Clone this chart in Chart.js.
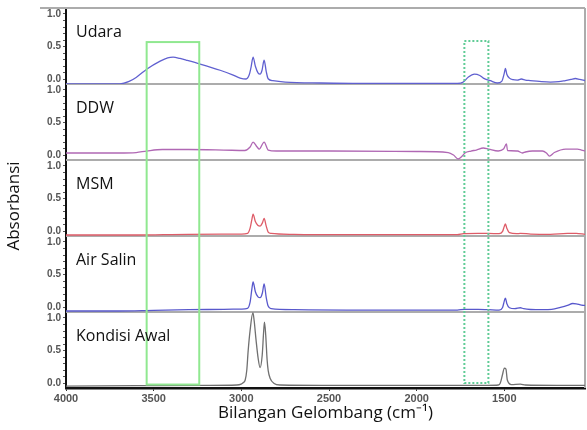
<!DOCTYPE html>
<html><head><meta charset="utf-8">
<script src="https://cdn.jsdelivr.net/npm/chart.js@4.4.1/dist/chart.umd.min.js"></script>
<style>html,body{margin:0;padding:0;background:#fff}</style>
</head><body>
<canvas id="c" width="587" height="430"></canvas>
<script>
// ---------- DATA ----------
const panelNames = ['Udara', 'DDW', 'MSM', 'Air Salin', 'Kondisi Awal'];
const xTickValues = [4000, 3500, 3000, 2500, 2000, 1500];
const yTickValues = [0, 0.1, 0.2, 0.3, 0.4, 0.5, 0.6, 0.7, 0.8, 0.9, 1.0];
const yLabelValues = [0, 0.5, 1.0];
const xTitle = 'Bilangan Gelombang (cm\u207B\u00B9)';
const yTitle = 'Absorbansi';

const udaraWn  = [4000, 3800, 3692, 3640, 3600, 3538, 3463, 3420, 3389, 3350, 3315, 3235, 3121, 3050, 3007, 2973, 2955, 2945, 2933, 2920, 2905, 2893, 2882, 2870, 2858, 2847, 2820, 2750, 2550, 2300, 2094, 1900, 1768, 1734, 1705, 1671, 1640, 1620, 1580, 1540, 1515, 1500, 1494, 1486, 1471, 1450, 1426, 1403, 1380, 1352, 1300, 1237, 1190, 1152, 1120, 1095, 1070, 1040];
const udaraAbs = [-0.07, -0.07, -0.068, -0.03, 0.03, 0.16, 0.28, 0.33, 0.34, 0.32, 0.295, 0.235, 0.14, 0.07, 0.02, 0.006, 0.07, 0.18, 0.34, 0.2, 0.1, 0.08, 0.14, 0.295, 0.12, 0.01, -0.02, -0.04, -0.055, -0.06, -0.062, -0.062, -0.062, -0.04, 0.036, 0.08, 0.06, 0.02, -0.02, -0.055, -0.03, 0.1, 0.17, 0.08, 0.02, -0.005, -0.01, 0.006, -0.01, -0.017, -0.03, -0.04, -0.035, -0.017, 0.0, 0.014, 0.0, -0.017];

const ddwWn  = [4000, 3700, 3600, 3540, 3450, 3300, 3100, 2980, 2950, 2933, 2910, 2898, 2870, 2847, 2800, 2500, 2000, 1820, 1790, 1763, 1740, 1725, 1690, 1660, 1620, 1590, 1535, 1505, 1488, 1482, 1425, 1397, 1380, 1340, 1283, 1260, 1243, 1215, 1150, 1083, 1060, 1040];
const ddwAbs = [0.037, 0.037, 0.044, 0.067, 0.09, 0.09, 0.082, 0.075, 0.128, 0.204, 0.128, 0.097, 0.204, 0.082, 0.067, 0.067, 0.06, 0.044, 0.006, -0.055, -0.01, 0.037, 0.067, 0.082, 0.113, 0.097, 0.067, 0.097, 0.174, 0.075, 0.067, 0.037, 0.052, 0.067, 0.067, 0.037, -0.01, 0.044, 0.097, 0.097, 0.082, 0.067];

const msmWn  = [4000, 3600, 3300, 3000, 2965, 2950, 2940, 2933, 2920, 2905, 2893, 2880, 2870, 2858, 2847, 2830, 2700, 2400, 2000, 1768, 1734, 1650, 1591, 1530, 1510, 1500, 1494, 1486, 1471, 1430, 1409, 1350, 1237, 1140, 1090, 1040];
const msmAbs = [-0.055, -0.055, -0.045, -0.04, -0.03, 0.05, 0.18, 0.265, 0.15, 0.09, 0.08, 0.13, 0.2, 0.08, -0.01, -0.03, -0.045, -0.05, -0.05, -0.05, -0.035, -0.03, -0.03, -0.035, 0.0, 0.08, 0.113, 0.05, -0.02, -0.035, -0.03, -0.04, -0.045, -0.03, -0.03, -0.045];

const airWn  = [4000, 3700, 3500, 3300, 3100, 3000, 2965, 2950, 2940, 2933, 2920, 2905, 2893, 2880, 2870, 2858, 2847, 2830, 2700, 2400, 2000, 1768, 1728, 1650, 1590, 1530, 1510, 1500, 1494, 1486, 1471, 1440, 1409, 1390, 1350, 1280, 1230, 1180, 1140, 1110, 1090, 1060, 1040];
const airAbs = [-0.055, -0.055, -0.045, -0.035, -0.03, -0.025, -0.015, 0.08, 0.28, 0.39, 0.24, 0.16, 0.148, 0.22, 0.36, 0.15, 0.02, -0.02, -0.035, -0.04, -0.04, -0.04, -0.03, -0.03, -0.035, -0.04, 0.0, 0.1, 0.143, 0.06, -0.005, -0.02, -0.005, -0.02, -0.032, -0.035, -0.03, 0.0, 0.03, 0.06, 0.055, 0.035, 0.03];

const awalWn  = [4000, 3600, 3200, 3026, 3001, 2990, 2978, 2969, 2961, 2950, 2934, 2927, 2916, 2904, 2893, 2881, 2873, 2868, 2861, 2853, 2847, 2836, 2813, 2779, 2500, 2000, 1600, 1534, 1523, 1511, 1500, 1491, 1483, 1460, 1409, 1380, 1200, 1040];
const awalAbs = [-0.04, -0.035, -0.03, -0.024, -0.01, 0.01, 0.052, 0.2, 0.5, 0.81, 1.08, 0.96, 0.66, 0.38, 0.24, 0.43, 0.78, 0.935, 0.74, 0.36, 0.2, 0.08, 0.0, -0.024, -0.03, -0.03, -0.03, -0.024, 0.006, 0.128, 0.234, 0.22, 0.052, -0.017, -0.01, -0.024, -0.03, -0.03];

// highlight regions (wavenumber range, absorbance at top panel top, absorbance at bottom panel bottom)
const boxOHWn = [3540, 3240];
const boxOHAbs = [0.57, -0.017];
const boxCOWn = [1728, 1591];
const boxCOAbs = [0.585, 0.006];

// ---------- STYLE ----------
const seriesWn = [udaraWn, ddwWn, msmWn, airWn, awalWn];
const seriesAbs = [udaraAbs, ddwAbs, msmAbs, airAbs, awalAbs];
const seriesColors = ['rgb(96,96,208)', 'rgb(176,104,180)', 'rgb(222,92,104)', 'rgb(88,88,204)', 'rgb(112,112,112)'];
const axisIds = ['yU', 'yD', 'yM', 'yA', 'yK'];

const datasets = seriesWn.map((wn, i) => ({
  label: panelNames[i],
  data: wn.map((w, j) => ({ x: w, y: seriesAbs[i][j] })),
  yAxisID: axisIds[i],
  borderColor: seriesColors[i],
  borderWidth: 1.3,
  pointRadius: 0,
  fill: false,
  cubicInterpolationMode: 'monotone'
}));

const scales = {
  x: {
    type: 'linear', reverse: true, min: 1040, max: 4000,
    afterBuildTicks: a => { a.ticks = xTickValues.map(v => ({ value: v })); },
    afterFit: a => { a.height = 42; },
    ticks: { autoSkip: false, maxRotation: 0, padding: 1, color: '#555',
      font: { family: 'Liberation Sans', size: 11, weight: 'bold' },
      callback: v => String(v) },
    grid: { drawOnChartArea: false, drawTicks: true, tickLength: 3, color: '#333' },
    border: { display: true, color: '#111', width: 2.5 },
    title: { display: true, text: xTitle, color: '#111',
      font: { family: 'Open Sans', size: 17 }, padding: { top: 0, bottom: 7 } }
  }
};
axisIds.forEach((id, i) => {
  scales[id] = {
    type: 'linear', position: 'left', stack: 'ir', stackWeight: 1, weight: 5 - i, offset: false,
    min: -0.07, max: 1.09,
    afterBuildTicks: a => { a.ticks = yTickValues.map(v => ({ value: v })); },
    afterFit: a => { a.width = 66; },
    ticks: { autoSkip: false, padding: 2, color: '#555',
      font: { family: 'Liberation Sans', size: 10, weight: 'bold' },
      callback: v => yLabelValues.some(l => Math.abs(l - v) < 1e-6) ? v.toFixed(1) : '' },
    grid: { drawOnChartArea: false, drawTicks: true, tickLength: 3, color: '#555' },
    border: { display: true, color: '#111', width: 2 }
  };
});

const framePlugin = {
  id: 'frame',
  beforeDatasetsDraw(chart) {
    const ctx = chart.ctx, ca = chart.chartArea;
    ctx.save();
    ctx.strokeStyle = 'rgb(172,172,172)';
    ctx.lineWidth = 2;
    ctx.beginPath();
    ctx.moveTo(40, ca.top); ctx.lineTo(ca.right, ca.top);
    ctx.moveTo(ca.right, ca.top); ctx.lineTo(ca.right, ca.bottom);
    axisIds.slice(1).forEach(id => {
      const s = chart.scales[id];
      ctx.moveTo(ca.left, s.top); ctx.lineTo(ca.right, s.top);
    });
    ctx.stroke();
    ctx.restore();
  },
  afterDatasetsDraw(chart) {
    const ctx = chart.ctx, ca = chart.chartArea, xs = chart.scales.x;
    const topS = chart.scales[axisIds[0]], botS = chart.scales[axisIds[4]];
    ctx.save();
    // solid box
    ctx.strokeStyle = 'rgb(144,232,144)';
    ctx.lineWidth = 2;
    let x1 = xs.getPixelForValue(boxOHWn[0]), x2 = xs.getPixelForValue(boxOHWn[1]);
    let y1 = topS.getPixelForValue(boxOHAbs[0]), y2 = botS.getPixelForValue(boxOHAbs[1]);
    ctx.strokeRect(x1, y1, x2 - x1, y2 - y1);
    // dotted box
    ctx.strokeStyle = 'rgb(96,204,150)';
    ctx.setLineDash([2, 2]);
    x1 = xs.getPixelForValue(boxCOWn[0]); x2 = xs.getPixelForValue(boxCOWn[1]);
    y1 = topS.getPixelForValue(boxCOAbs[0]); y2 = botS.getPixelForValue(boxCOAbs[1]);
    ctx.strokeRect(x1, y1, x2 - x1, y2 - y1);
    ctx.setLineDash([]);
    // panel labels
    ctx.fillStyle = '#111';
    ctx.font = '16px "Open Sans"';
    ctx.textBaseline = 'alphabetic';
    ctx.textAlign = 'left';
    axisIds.forEach((id, i) => {
      const s = chart.scales[id];
      ctx.fillText(panelNames[i], ca.left + 10, s.getPixelForValue(0.64));
    });
    // y title
    ctx.font = '17px "Open Sans"';
    ctx.textAlign = 'center';
    ctx.textBaseline = 'middle';
    ctx.translate(14, 206);
    ctx.rotate(-Math.PI / 2);
    ctx.fillText(yTitle, 0, 0);
    ctx.restore();
  }
};

new Chart(document.getElementById('c'), {
  type: 'line',
  data: { datasets },
  options: {
    responsive: false,
    animation: false,
    layout: { padding: { top: 7, right: 2, left: 0, bottom: 0 } },
    plugins: { legend: { display: false }, tooltip: { enabled: false } },
    scales
  },
  plugins: [framePlugin]
});
</script>
</body></html>
